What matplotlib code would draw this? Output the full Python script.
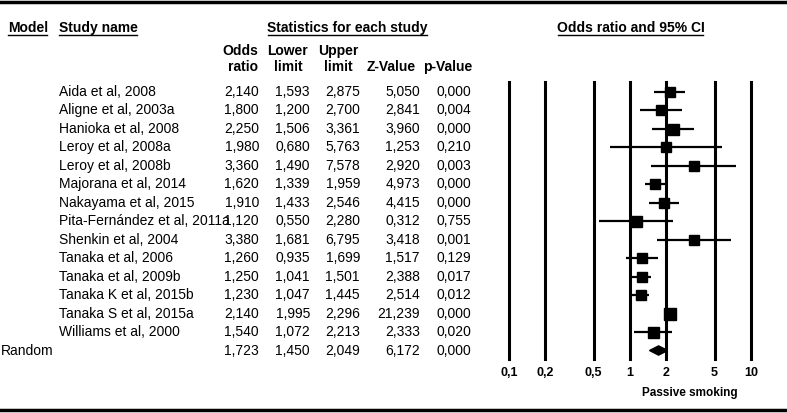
import numpy as np
import matplotlib.pyplot as plt
from matplotlib.lines import Line2D
from matplotlib.transforms import blended_transform_factory

plt.rcParams['font.family'] = ['Liberation Sans', 'DejaVu Sans']

# Study data
studies = ['Aida et al, 2008', 'Aligne et al, 2003a', 'Hanioka et al, 2008',
           'Leroy et al, 2008a', 'Leroy et al, 2008b', 'Majorana et al, 2014',
           'Nakayama et al, 2015', 'Pita-Fernández et al, 2011a', 'Shenkin et al, 2004',
           'Tanaka et al, 2006', 'Tanaka et al, 2009b', 'Tanaka K et al, 2015b',
           'Tanaka S et al, 2015a', 'Williams et al, 2000']
odds = [2.140, 1.800, 2.250, 1.980, 3.360, 1.620, 1.910, 1.120, 3.380,
        1.260, 1.250, 1.230, 2.140, 1.540]
lower = [1.593, 1.200, 1.506, 0.680, 1.490, 1.339, 1.433, 0.550, 1.681,
         0.935, 1.041, 1.047, 1.995, 1.072]
upper = [2.875, 2.700, 3.361, 5.763, 7.578, 1.959, 2.546, 2.280, 6.795,
         1.699, 1.501, 1.445, 2.296, 2.213]
zval = [5.050, 2.841, 3.960, 1.253, 2.920, 4.973, 4.415, 0.312, 3.418,
        1.517, 2.388, 2.514, 21.239, 2.333]
pval = [0.000, 0.004, 0.000, 0.210, 0.003, 0.000, 0.000, 0.755, 0.001,
        0.129, 0.017, 0.012, 0.000, 0.020]
# relative weights (square size)
weights = [10.5, 10.5, 11, 10, 10, 10, 10.5, 11, 10, 10, 10, 10, 11.5, 11]

random_or, random_lo, random_hi, random_z, random_p = 1.723, 1.450, 2.049, 6.172, 0.000

ticks = [0.1, 0.2, 0.5, 1, 2, 5, 10]
tick_labels = ['0,1', '0,2', '0,5', '1', '2', '5', '10']

W, H = 787, 413
fig = plt.figure(figsize=(W / 100, H / 100), dpi=100)


def fx(px):
    return px / W


def fy(py):
    return 1 - py / H


# forest axes
ax = fig.add_axes([fx(509), fy(359), fx(751) - fx(509), fy(82) - fy(359)])
ax.set_xscale('log')
ax.set_xlim(0.1, 10)
ax.set_ylim(14.46, -0.54)
ax.axis('off')

for t in ticks:
    ax.axvline(t, color='black', lw=2.2, clip_on=False)

rows = np.arange(len(studies))
for i in rows:
    ax.plot([lower[i], upper[i]], [i, i], color='black', lw=1.6, solid_capstyle='butt')
    ax.plot(odds[i], i, marker='s', color='black', ms=weights[i] * 0.72, zorder=3)

r = len(studies)
ax.fill([random_lo, random_or, random_hi, random_or], [r, r - 0.25, r, r + 0.25],
        color='black', zorder=3)

# tick labels below the forest
tr_x = blended_transform_factory(ax.transData, fig.transFigure)
for t, lab in zip(ticks, tick_labels):
    fig.text(t, fy(373), lab, transform=tr_x, ha='center', va='center',
             fontsize=9, fontweight='bold')
fig.text(fx(690), fy(393), 'Passive smoking', ha='center', va='center',
         fontsize=8.5, fontweight='bold')

# table text
tr = blended_transform_factory(fig.transFigure, ax.transData)
fs = 10
colx = [259, 310, 360, 420, 471]


def fmt(v):
    return f'{v:.3f}'.replace('.', ',')


for i in rows:
    fig.text(fx(59), i, studies[i], transform=tr, ha='left', va='center', fontsize=fs)
    for col, xr in zip([odds, lower, upper, zval, pval], colx):
        fig.text(fx(xr), i, fmt(col[i]), transform=tr, ha='right', va='center', fontsize=fs)

fig.text(fx(1), r, 'Random', transform=tr, ha='left', va='center', fontsize=fs)
for v, xr in zip([random_or, random_lo, random_hi, random_z, random_p], colx):
    fig.text(fx(xr), r, fmt(v), transform=tr, ha='right', va='center', fontsize=fs)

# headers
hfs = 10
headers = [('Model', 8, 47, 'left'), ('Study name', 59, 137, 'left'),
           ('Statistics for each study', 268, 427, 'center'),
           ('Odds ratio and 95% CI', 558, 703, 'center')]
for txt, x0, x1, ha in headers:
    xpos = x0 if ha == 'left' else (x0 + x1) / 2
    fig.text(fx(xpos), fy(28), txt, ha=ha, va='center', fontsize=hfs, fontweight='bold')
    fig.add_artist(Line2D([fx(x0), fx(x1)], [fy(35), fy(35)], color='black', lw=1.0))

col_heads = [('Odds', 'ratio', 258, 'right'), ('Lower', 'limit', 288, 'center'),
             ('Upper', 'limit', 338, 'center')]
for top, bot, x, ha in col_heads:
    fig.text(fx(x), fy(51), top, ha=ha, va='center', fontsize=hfs, fontweight='bold')
    fig.text(fx(x), fy(67), bot, ha=ha, va='center', fontsize=hfs, fontweight='bold')
fig.text(fx(416), fy(67), 'Z-Value', ha='right', va='center', fontsize=hfs, fontweight='bold')
fig.text(fx(472), fy(67), 'p-Value', ha='right', va='center', fontsize=hfs, fontweight='bold')

# thick rules top and bottom
fig.add_artist(Line2D([0, 1], [fy(2), fy(2)], color='black', lw=2.5))
fig.add_artist(Line2D([0, 1], [fy(410), fy(410)], color='black', lw=2.5))

fig.savefig('out.png', dpi=100)
